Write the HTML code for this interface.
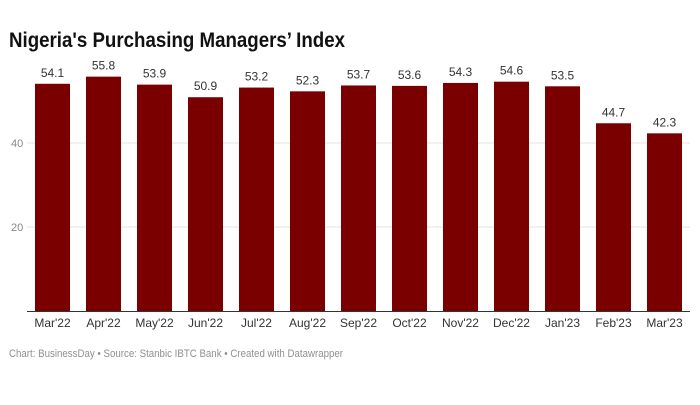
<!DOCTYPE html><html><head><style>
body{margin:0;background:#fff;width:700px;height:400px;overflow:hidden;font-family:"Liberation Sans",sans-serif}
</style></head><body>
<svg width="700" height="400" xmlns="http://www.w3.org/2000/svg" font-family="Liberation Sans, sans-serif">
<text x="9" y="47" font-size="21" font-weight="bold" fill="#111" textLength="336" lengthAdjust="spacingAndGlyphs">Nigeria's Purchasing Managers’ Index</text>
<line x1="27" x2="690" y1="143" y2="143" stroke="#e3e3e3"/>
<line x1="27" x2="690" y1="227" y2="227" stroke="#e3e3e3"/>
<text x="11" y="147" font-size="11" fill="#888">40</text>
<text x="11" y="231" font-size="11" fill="#888">20</text>
<g id="bars"></g>
<line x1="27" x2="690" y1="311.5" y2="311.5" stroke="#333" stroke-width="1"/>
<text x="9" y="357" font-size="11" fill="#909090" textLength="334" lengthAdjust="spacingAndGlyphs">Chart: BusinessDay • Source: Stanbic IBTC Bank • Created with Datawrapper</text>
</svg>
<script>
var v=[54.1,55.8,53.9,50.9,53.2,52.3,53.7,53.6,54.3,54.6,53.5,44.7,42.3];
var l=["Mar'22","Apr'22","May'22","Jun'22","Jul'22","Aug'22","Sep'22","Oct'22","Nov'22","Dec'22","Jan'23","Feb'23","Mar'23"];
var g=document.getElementById('bars'),s='';
for(var i=0;i<13;i++){var x=35+i*51,h=v[i]*4.2,y=311-h,c=x+17.5;
s+='<rect x="'+x+'" y="'+y+'" width="35" height="'+h+'" fill="#7a0000"/>';
s+='<text x="'+c+'" y="'+(y-7)+'" font-size="12" fill="#333" text-anchor="middle">'+v[i]+'</text>';
s+='<text x="'+c+'" y="327" font-size="12" fill="#333" text-anchor="middle">'+l[i]+'</text>';}
g.innerHTML=s;
</script>
</body></html>
